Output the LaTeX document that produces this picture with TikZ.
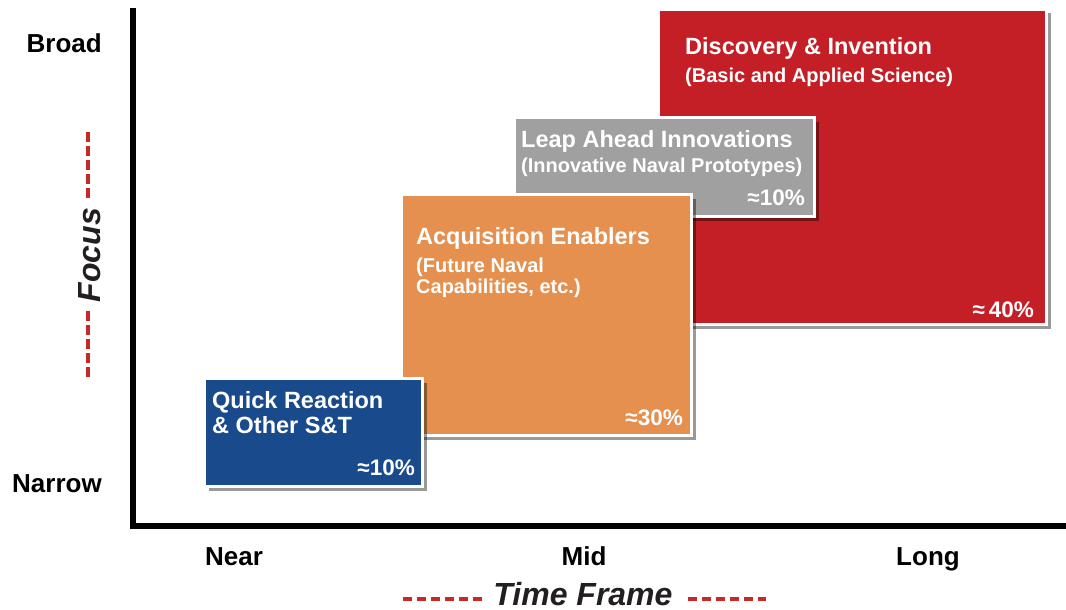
\documentclass[tikz,border=0pt]{standalone}
\usepackage{fontspec}
\setmainfont{Liberation Sans}
\usetikzlibrary{shadows}
\definecolor{discred}{RGB}{196,30,38}
\definecolor{leapgray}{RGB}{160,160,160}
\definecolor{acqorange}{RGB}{229,144,79}
\definecolor{quickblue}{RGB}{24,74,140}
\definecolor{dashred}{RGB}{200,40,40}
\definecolor{titlegray}{RGB}{35,31,32}
\begin{document}
\begin{tikzpicture}[x=1pt, y=-1pt,
	box/.style={draw=white, line width=3pt, inner sep=0pt, drop shadow={shadow xshift=4pt, shadow yshift=-4pt, opacity=0.4, fill=black}},
	title/.style={anchor=base west, inner sep=0pt, text=white, font=\bfseries\fontsize{23.5}{27}\selectfont},
	sub/.style={anchor=base west, inner sep=0pt, text=white, font=\bfseries\fontsize{20}{24}\selectfont},
	share/.style={anchor=base east, inner sep=0pt, text=white, font=\bfseries\fontsize{22.5}{26}\selectfont},
	axislabel/.style={inner sep=0pt, font=\bfseries\fontsize{26}{30}\selectfont},
	axistitle/.style={anchor=base, inner sep=0pt, text=titlegray, font=\bfseries\itshape\fontsize{32}{36}\selectfont},
	reddash/.style={draw=dashred, line width=4pt, dash pattern=on 9.5pt off 4.5pt}]
	\useasboundingbox (0,0) rectangle (1066,610);
	% axes
	\coordinate (top) at (133,8);
	\coordinate (origin) at (133,526);
	\coordinate (right) at (1066,526);
	\draw[line width=6pt] (top) -- (origin) -- (right);
	% boxes, back to front
	\node (disc) at (852.5,167)	[box, fill=discred, minimum width=388, minimum height=315]	{};
	\node (leap) at (664.5,167)	[box, fill=leapgray, minimum width=300, minimum height=99]	{};
	\node (acq) at (546.5,315)	[box, fill=acqorange, minimum width=290, minimum height=241]	{};
	\node (quick) at (313.5,432.5)	[box, fill=quickblue, minimum width=218, minimum height=108]	{};
	% box texts
	\node (discT) at (685,54.5)	[title]	{Discovery \& Invention};
	\node (discS) at (685,83)	[sub]	{(Basic and Applied Science)};
	\node (discP) at (1034,317)	[share]	{≈\,40\%};
	\node (leapT) at (521,147)	[title]	{Leap Ahead Innovations};
	\node (leapS) at (521,172)	[sub]	{(Innovative Naval Prototypes)};
	\node (leapP) at (805,205)	[share]	{≈10\%};
	\node (acqT) at (416,244)	[title]	{Acquisition Enablers};
	\node (acqS) at (416,272)	[sub]	{(Future Naval};
	\node (acqS2) at (416,293)	[sub]	{Capabilities, etc.)};
	\node (acqP) at (683,425)	[share]	{≈30\%};
	\node (quickT) at (212,408)	[title]	{Quick Reaction};
	\node (quickT2) at (212,433)	[title]	{\& Other S\&T};
	\node (quickP) at (415,475)	[share]	{≈10\%};
	% axis labels
	\node (broad) at (102,53)	[axislabel, anchor=base east]	{Broad};
	\node (narrow) at (102,492)	[axislabel, anchor=base east]	{Narrow};
	\node (near) at (234,565)	[axislabel, anchor=base]	{Near};
	\node (mid) at (584,565)	[axislabel, anchor=base]	{Mid};
	\node (long) at (928,565)	[axislabel, anchor=base]	{Long};
	\node (focus) at (100,255)	[axistitle, rotate=90]	{Focus};
	\node (time) at (583,605)	[axistitle]	{Time Frame};
	\draw[reddash] (focus.base east) ++(-12,-10) -- ++(0,-68);
	\draw[reddash] (focus.base west) ++(-12,9) -- ++(0,67);
	\draw[reddash] (time.base west) ++(-11,-6) -- ++(-79,0);
	\draw[reddash] (time.base east) ++(15,-6) -- ++(78,0);
\end{tikzpicture}
\end{document}
